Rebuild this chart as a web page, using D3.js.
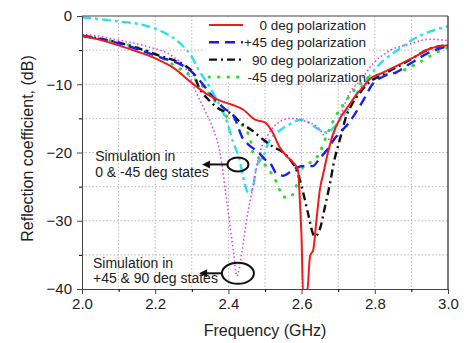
<!DOCTYPE html>
<html>
<head>
<meta charset="utf-8">
<script src="https://cdn.jsdelivr.net/npm/d3@7"></script>
<style>
  body { margin: 0; background: #fff; }
  text { font-family: Arial, "Liberation Sans", sans-serif; fill: #222; }
</style>
</head>
<body>
<div id="chart"></div>
<script>
// measured: 0 deg polarization
const freqRed = [2.0, 2.05, 2.1, 2.15, 2.2, 2.25, 2.3, 2.34, 2.377, 2.41, 2.44, 2.473, 2.5, 2.519, 2.541, 2.56, 2.574, 2.59, 2.596, 2.6, 2.604, 2.615, 2.623, 2.632, 2.64, 2.65, 2.66, 2.672, 2.686, 2.705, 2.724, 2.746, 2.768, 2.787, 2.814, 2.86, 2.915, 2.95, 3.0];
const dbRed = [-2.9, -3.5, -4.3, -5.2, -6.2, -7.6, -9.8, -11.4, -12.4, -13, -13.7, -15.2, -15.6, -16.9, -19.3, -20.6, -21.3, -22.5, -27.9, -32.7, -40.5, -40.5, -35.2, -34.2, -30.2, -25.4, -22.9, -20, -17.3, -15, -13.5, -11.8, -10.4, -9.2, -8.5, -7.3, -5.8, -4.8, -4.3];

// measured: +45 deg polarization
const freqBlue = [2.0, 2.1, 2.2, 2.3, 2.33, 2.36, 2.39, 2.413, 2.44, 2.454, 2.473, 2.486, 2.5, 2.514, 2.53, 2.55, 2.575, 2.6, 2.63, 2.65, 2.67, 2.69, 2.71, 2.73, 2.745, 2.768, 2.795, 2.822, 2.86, 2.896, 2.95, 3.0];
const dbBlue = [-2.9, -4.0, -5.8, -8.2, -10, -12, -13.6, -14.5, -18, -18.8, -19.6, -20.2, -21, -21.5, -23, -23.4, -22.6, -22, -22, -20.8, -19.6, -18, -16.8, -15.6, -14.4, -12.4, -9.9, -8.9, -8.2, -7, -5.3, -4.4];

// measured: 90 deg polarization
const freqBlack = [2.0, 2.1, 2.2, 2.3, 2.32, 2.35, 2.377, 2.404, 2.44, 2.46, 2.495, 2.52, 2.55, 2.568, 2.587, 2.604, 2.617, 2.636, 2.65, 2.664, 2.678, 2.69, 2.7, 2.71, 2.72, 2.737, 2.76, 2.787, 2.814, 2.86, 2.9, 2.95, 3.0];
const dbBlack = [-2.9, -3.9, -5.6, -8, -10.5, -12.5, -13.7, -14.2, -15.9, -16.6, -18.1, -19.1, -20, -21, -22.7, -25.8, -28.8, -32.3, -31.2, -27.9, -24.4, -21, -19, -17, -15, -13, -11.2, -9.6, -8.8, -7.5, -6.3, -4.8, -4.3];

// measured: -45 deg polarization
const freqGreen = [2.0, 2.1, 2.2, 2.254, 2.3, 2.35, 2.39, 2.43, 2.46, 2.467, 2.486, 2.51, 2.533, 2.55, 2.568, 2.587, 2.6, 2.61, 2.63, 2.65, 2.664, 2.69, 2.72, 2.75, 2.787, 2.82, 2.86, 2.915, 2.97, 3.0];
const dbGreen = [-2.9, -3.9, -5.6, -7.3, -8.9, -11.5, -14.5, -15.6, -18.1, -20, -21, -22.5, -24.5, -26.5, -26.6, -24.7, -22.5, -21.8, -21.3, -20, -18.1, -15, -12.5, -10.5, -8.9, -8.6, -8.3, -7, -5.3, -4.6];

// simulation in 0 & -45 deg states
const freqCyan = [2.0, 2.085, 2.18, 2.22, 2.27, 2.3, 2.32, 2.35, 2.377, 2.396, 2.413, 2.43, 2.44, 2.454, 2.465, 2.477, 2.495, 2.51, 2.53, 2.55, 2.577, 2.596, 2.62, 2.64, 2.67, 2.69, 2.705, 2.724, 2.75, 2.78, 2.814, 2.86, 2.905, 2.95, 3.0];
const dbCyan = [-0.2, -0.7, -1.5, -2.3, -4.1, -6, -8, -10.5, -13.2, -15.5, -18.5, -21, -23.5, -25.9, -25.5, -22, -20.6, -18.5, -17.2, -16.4, -15.6, -15.2, -15.6, -16.4, -17.1, -16.2, -15.3, -13.9, -11.4, -9.2, -7, -5.1, -3.4, -2.3, -1.5];

// simulation in +45 & 90 deg states
const freqMagenta = [2.0, 2.04, 2.085, 2.18, 2.25, 2.287, 2.31, 2.34, 2.358, 2.377, 2.396, 2.414, 2.423, 2.437, 2.45, 2.467, 2.486, 2.505, 2.53, 2.568, 2.615, 2.65, 2.67, 2.685, 2.705, 2.73, 2.76, 2.795, 2.84, 2.896, 2.95, 3.0];
const dbMagenta = [-2.7, -2.9, -3.4, -4.5, -6, -8, -11, -14.3, -16.5, -20, -27.3, -34.6, -38.1, -34.6, -29.8, -25, -20, -17.7, -15.9, -15, -15.5, -16.6, -18.1, -17.5, -14.8, -11.4, -9.5, -7, -5.1, -4.1, -3.4, -3.6];

const xTicks = [2.0, 2.2, 2.4, 2.6, 2.8, 3.0];
const yTicks = [0, -10, -20, -30, -40];
const legendLabels = ['0 deg polarization', '+45 deg polarization', '90 deg polarization', '-45 deg polarization'];

const width = 468, height = 343;
const margin = { top: 16, right: 20, bottom: 54, left: 82 };
const w = width - margin.left - margin.right;
const h = height - margin.top - margin.bottom;

const svg = d3.select('#chart').append('svg')
  .attr('width', width)
  .attr('height', height);

const g = svg.append('g').attr('transform', `translate(${margin.left},${margin.top})`);

const x = d3.scaleLinear().domain([2.0, 3.0]).range([0, w]);
const y = d3.scaleLinear().domain([-40, 0]).range([h, 0]);

// grid
g.append('g')
  .selectAll('line')
  .data(d3.range(2.1, 2.95, 0.1))
  .join('line')
  .attr('x1', d => x(d)).attr('x2', d => x(d))
  .attr('y1', 0).attr('y2', h)
  .attr('stroke', '#b8b8b8')
  .attr('stroke-width', 1)
  .attr('stroke-dasharray', '1.5,2');

g.append('g')
  .selectAll('line')
  .data(d3.range(-35, 0, 5))
  .join('line')
  .attr('y1', d => y(d)).attr('y2', d => y(d))
  .attr('x1', 0).attr('x2', w)
  .attr('stroke', '#b8b8b8')
  .attr('stroke-width', 1)
  .attr('stroke-dasharray', '1.5,2');

// legend background hides the grid behind it
g.append('rect')
  .attr('x', 123).attr('y', 1)
  .attr('width', 164).attr('height', 65)
  .attr('fill', '#fff');

// clip
svg.append('clipPath').attr('id', 'clip')
  .append('rect').attr('width', w).attr('height', h);

const line = d3.line()
  .x(d => x(d[0]))
  .y(d => y(d[1]))
  .curve(d3.curveMonotoneX);

const series = [
  { f: freqCyan, v: dbCyan, color: '#2ee0e6', width: 2.4, dash: '9,4,3,4' },
  { f: freqMagenta, v: dbMagenta, color: '#e040e8', width: 1.6, dash: '1.5,2.5' },
  { f: freqGreen, v: dbGreen, color: '#2fdc2f', width: 3, dash: '0.5,9', cap: 'round' },
  { f: freqBlack, v: dbBlack, color: '#111', width: 2.4, dash: '8,4,2,4' },
  { f: freqBlue, v: dbBlue, color: '#1c1cf0', width: 2.4, dash: '10,6' },
  { f: freqRed, v: dbRed, color: '#f01a1a', width: 2, dash: null }
];

const plot = g.append('g').attr('clip-path', 'url(#clip)');
series.forEach(s => {
  plot.append('path')
    .datum(s.f.map((f, i) => [f, s.v[i]]))
    .attr('d', line)
    .attr('fill', 'none')
    .attr('stroke', s.color)
    .attr('stroke-width', s.width)
    .attr('stroke-linecap', s.cap || 'butt')
    .attr('stroke-dasharray', s.dash);
});

// frame
g.append('line').attr('x1', 0).attr('x2', w).attr('y1', 0).attr('y2', 0).attr('stroke', '#444');
g.append('line').attr('x1', w).attr('x2', w).attr('y1', 0).attr('y2', h).attr('stroke', '#222').attr('stroke-width', 1.2);

// axes
const xAxis = g.append('g')
  .attr('transform', `translate(0,${h})`)
  .call(d3.axisBottom(x).tickValues(xTicks).tickFormat(d3.format('.1f')).tickSize(5).tickPadding(4));
g.append('g')
  .attr('transform', `translate(0,${h})`)
  .call(d3.axisBottom(x).tickValues([2.1, 2.3, 2.5, 2.7, 2.9]).tickFormat('').tickSize(3))
  .select('.domain').remove();

const yAxis = g.append('g')
  .call(d3.axisLeft(y).tickValues(yTicks).tickSize(5).tickPadding(5));
g.append('g')
  .call(d3.axisLeft(y).tickValues([-5, -15, -25, -35]).tickFormat('').tickSize(3))
  .select('.domain').remove();

[xAxis, yAxis].forEach(a => {
  a.selectAll('text').attr('font-size', 15).attr('fill', '#222')
    .style('font-family', 'Arial, "Liberation Sans", sans-serif');
  a.selectAll('line').attr('stroke', '#444');
  a.select('.domain').attr('stroke', '#444');
});

// axis titles
svg.append('text')
  .attr('x', margin.left + w / 2)
  .attr('y', 336)
  .attr('text-anchor', 'middle')
  .attr('font-size', 16)
  .text('Frequency (GHz)');

svg.append('text')
  .attr('transform', `translate(33,${margin.top + h / 2 - 4}) rotate(-90)`)
  .attr('text-anchor', 'middle')
  .attr('font-size', 16)
  .text('Reflection coefficient, (dB)');

// legend
const legend = g.append('g');
series.slice(2).reverse().forEach((s, i) => {
  const ly = 9 + i * 17.3;
  legend.append('line')
    .attr('x1', 127).attr('x2', 161)
    .attr('y1', ly).attr('y2', ly)
    .attr('stroke', s.color)
    .attr('stroke-width', s.width)
    .attr('stroke-linecap', s.cap || 'butt')
    .attr('stroke-dasharray', s.dash);
  legend.append('text')
    .attr('x', 284).attr('y', ly + 5)
    .attr('text-anchor', 'end')
    .attr('font-size', 13.5)
    .text(legendLabels[i]);
});

// annotations
function arrow(x1, x2, yy) {
  g.append('line')
    .attr('x1', x1).attr('x2', x2 + 6)
    .attr('y1', yy).attr('y2', yy)
    .attr('stroke', '#111').attr('stroke-width', 2);
  g.append('path')
    .attr('d', `M${x2},${yy} L${x2 + 8},${yy - 4} L${x2 + 8},${yy + 4} Z`)
    .attr('fill', '#111');
}

g.append('ellipse')
  .attr('cx', x(2.426)).attr('cy', y(-21.75))
  .attr('rx', 10.5).attr('ry', 7)
  .attr('fill', 'none').attr('stroke', '#111').attr('stroke-width', 2);
arrow(x(2.399), x(2.328), y(-21.75));

g.append('ellipse')
  .attr('cx', x(2.426)).attr('cy', y(-37.7))
  .attr('rx', 16).attr('ry', 10.5)
  .attr('fill', 'none').attr('stroke', '#111').attr('stroke-width', 2);
arrow(x(2.38), x(2.32), y(-37.7));

const notes = [
  { f: 2.036, lines: ['Simulation in', '0 & -45 deg states'], base: -21.3 },
  { f: 2.03, lines: ['Simulation in', '+45 & 90 deg states'], base: -36.9 }
];
notes.forEach(n => {
  n.lines.forEach((t, i) => {
    g.append('text')
      .attr('x', x(n.f))
      .attr('y', y(n.base) + i * 15.5)
      .attr('font-size', 14)
      .text(t);
  });
});
</script>
</body>
</html>
